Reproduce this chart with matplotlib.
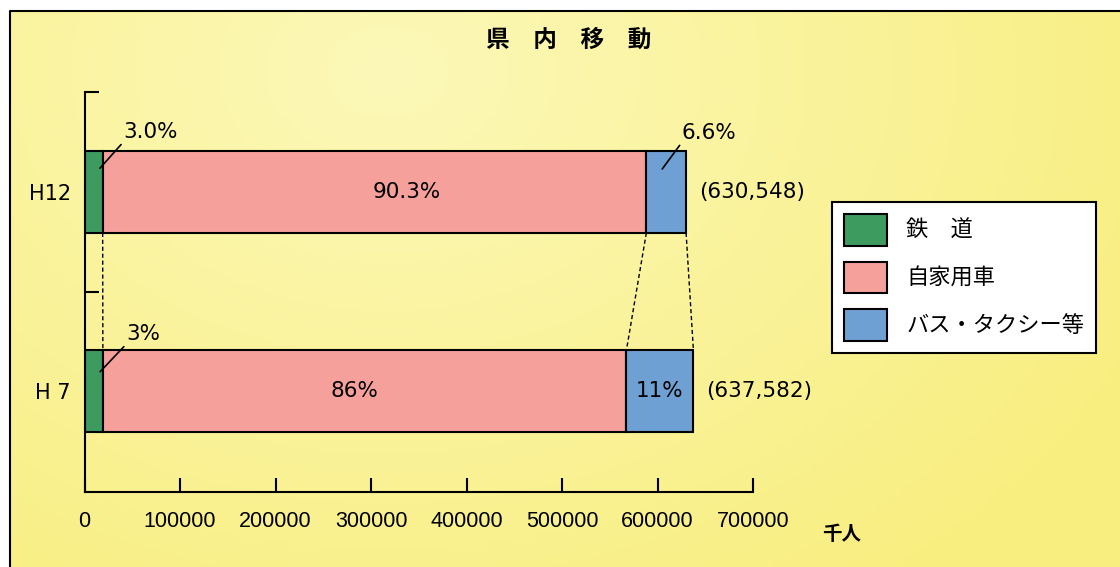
import numpy as np
import matplotlib.pyplot as plt
from matplotlib.patches import Patch
from matplotlib.font_manager import FontProperties

# 県内移動の交通手段別構成（単位：千人）
years = ["H12", "H 7"]
totals = [630548, 637582]
modes = ["鉄　道", "自家用車", "バス・タクシー等"]
share_h12 = [3.0, 90.3, 6.6]
share_h7 = [3, 86, 11]
labels_h12 = ["3.0%", "90.3%", "6.6%"]
labels_h7 = ["3%", "86%", "11%"]
x_ticks = [0, 100000, 200000, 300000, 400000, 500000, 600000, 700000]

colors = ["#3d9b60", "#f5a09b", "#6fa0d3"]
ypos = [1, 0]
bar_h = 0.41

jp = ["Noto Sans CJK JP", "DejaVu Sans"]
plt.rcParams["font.family"] = ["DejaVu Sans", "Noto Sans CJK JP"]

W, H = 1120, 567
fig = plt.figure(figsize=(W / 100, H / 100), dpi=100)
fig.patch.set_facecolor("white")

# 背景（黄色のグラデーション）と枠線
bg = fig.add_axes([0, 0, 1, 1], zorder=0)
gx, gy = np.meshgrid(np.linspace(0, W, 300), np.linspace(0, H, 150))
d = np.sqrt((gx - 380) ** 2 + ((gy - 60) * 1.3) ** 2)
t = np.clip(d / 850, 0, 1)[..., None]
light = np.array([252, 248, 184]) / 255
deep = np.array([248, 238, 128]) / 255
bg.imshow(light * (1 - t) + deep * t, extent=[10, W, H, 11], aspect="auto")
bg.plot([10, 10, W], [H, 11, 11], color="black", lw=1.5)
bg.set_xlim(0, W)
bg.set_ylim(H, 0)
bg.axis("off")

fig.text(569 / W, 1 - 40 / H, "県　内　移　動", ha="center", va="center",
         fontsize=17, fontweight="bold", family=jp)

ax = fig.add_axes([84.6 / W, 1 - 492 / H, 668.4 / W, 400 / H], zorder=1)
ax.patch.set_alpha(0)

shares = [share_h12, share_h7]
lefts_all, widths_all = [], []
for y, total, sh in zip(ypos, totals, shares):
    widths = [total * p / 100 for p in sh]
    lefts = np.concatenate([[0], np.cumsum(widths)[:-1]])
    ax.barh([y] * 3, widths, left=lefts, height=bar_h, color=colors,
            edgecolor="black", linewidth=1.5)
    lefts_all.append(lefts)
    widths_all.append(widths)

# 年次間を結ぶ破線
for i in range(3):
    x_top = lefts_all[0][i] + widths_all[0][i]
    x_bot = lefts_all[1][i] + widths_all[1][i]
    ax.plot([x_top, x_bot], [ypos[0] - bar_h / 2, ypos[1] + bar_h / 2],
            color="black", lw=1, ls=(0, (3, 2)))

lab_fs = 15.5
arrow = dict(arrowstyle="-", color="black", lw=1.2, shrinkA=0, shrinkB=0,
             relpos=(0, 0))

# H12
l, w = lefts_all[0], widths_all[0]
ax.annotate(labels_h12[0], xy=(l[0] + 0.85 * w[0], 1.12), xytext=(17, 19),
            textcoords="offset points", ha="left", va="bottom",
            fontsize=lab_fs, arrowprops=arrow)
ax.text(l[1] + 0.56 * w[1], 1, labels_h12[1], ha="center", va="center",
        fontsize=lab_fs)
ax.annotate(labels_h12[2], xy=(l[2] + 0.4 * w[2], 1.116), xytext=(14, 19),
            textcoords="offset points", ha="left", va="bottom",
            fontsize=lab_fs, arrowprops=arrow)

# H7
l, w = lefts_all[1], widths_all[1]
ax.annotate(labels_h7[0], xy=(l[0] + 0.85 * w[0], 0.097), xytext=(19, 20),
            textcoords="offset points", ha="left", va="bottom",
            fontsize=lab_fs, arrowprops=arrow)
ax.text(l[1] + 0.48 * w[1], 0, labels_h7[1], ha="center", va="center",
        fontsize=lab_fs)
ax.text(l[2] + 0.5 * w[2], 0, labels_h7[2], ha="center", va="center",
        fontsize=lab_fs)

# 総数
for y, total in zip(ypos, totals):
    ax.annotate(f"({total:,})", xy=(total, y), xytext=(9, 0),
                textcoords="offset points", ha="left", va="center",
                fontsize=lab_fs)

ax.set_xlim(0, 700000)
ax.set_ylim(-0.508, 1.503)
for s in ["top", "right"]:
    ax.spines[s].set_visible(False)
for s in ["left", "bottom"]:
    ax.spines[s].set_linewidth(1.5)

ax.set_xticks(x_ticks)
ax.set_xticklabels([str(v) for v in x_ticks], family="Liberation Sans",
                   fontsize=15.5)
ax.tick_params(axis="x", direction="in", length=10, width=1.5, pad=13.5)
ax.set_yticks(ypos)
ax.set_yticklabels(years, fontsize=15)
ax.tick_params(axis="y", which="major", length=0, pad=10)
ax.set_yticks([0.5, 1.503], minor=True)
ax.tick_params(axis="y", which="minor", direction="in", length=10, width=1.5)

fig.text(842 / W, 1 - 535 / H, "千人", ha="center", va="center",
         fontsize=14, fontweight="bold", family=jp)

handles = [Patch(facecolor=c, edgecolor="black", linewidth=1.5) for c in colors]
leg = ax.legend(handles, modes, loc="upper left",
                bbox_to_anchor=(832 / W, 1 - 202 / H),
                bbox_transform=fig.transFigure,
                prop=FontProperties(family="Noto Sans CJK JP", size=16),
                frameon=True, fancybox=False, framealpha=1,
                edgecolor="black", facecolor="white",
                borderpad=0.55, handlelength=1.94, handleheight=1.8,
                labelspacing=0.72, handletextpad=0.85, borderaxespad=0)
leg.get_frame().set_linewidth(1.5)

fig.savefig("out.png", dpi=100)
